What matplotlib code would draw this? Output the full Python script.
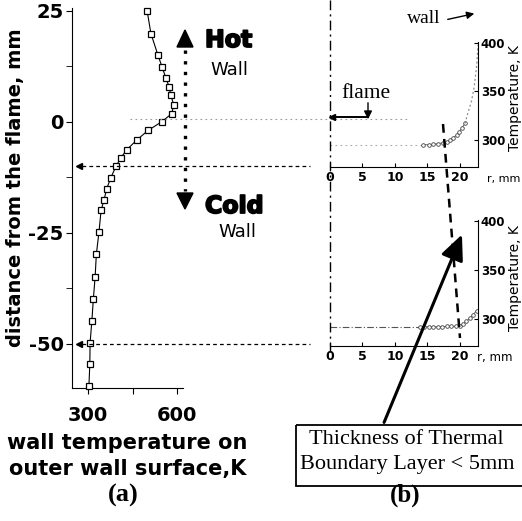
"""
plot.py

Wall temperature along the outer wall (a) and radial temperature profiles
at two heights (b), with the arrows and notes that link the two panels.
"""

import matplotlib.pyplot as plt
import matplotlib.patheffects as pe
from matplotlib.patches import Polygon, Rectangle, FancyArrowPatch
from matplotlib.transforms import blended_transform_factory

W, H = 522, 521  # output size in pixels

plt.rcParams["axes.unicode_minus"] = False

# (a) outer-wall temperature vs. distance from the flame
dist_mm = [25, 19.8, 14.9, 12.4, 9.9, 7.9, 5.9, 3.8, 1.8, 0, -2.0, -4.1, -6.3,
           -8.1, -10.1, -12.6, -15.1, -17.6, -20.0, -24.8, -29.9, -34.9,
           -39.9, -44.8, -49.8, -54.7, -59.5]
wall_temp_K = [499, 512, 536, 549, 562, 573, 579, 589, 582, 549, 502, 465, 431,
               411, 394, 377, 363, 354, 344, 337, 328, 324, 318, 313, 307, 306,
               303]
a_xticks = [300, 450, 600]
a_xticklabels = ["300", "", "600"]
a_yticks = [25, 0, -25, -50]
a_yticks_minor = [12.5, -12.5, -37.5]

# (b) radial profile at the flame height (upper plot)
r_top_flat = [0, 14.4]
T_top_flat = [295, 295]
r_top = [14.4, 15.2, 15.9, 16.6, 17.4, 18.0, 18.5, 19.0, 19.5, 19.9, 20.3, 20.8]
T_top = [295, 295, 295.5, 296, 297, 298, 299.5, 302, 305, 308, 312, 317]
r_top_rise = [20.8, 21.3, 21.8, 22.2, 22.6, 22.8]
T_top_rise = [317, 329, 340, 354, 377, 398]

# (b) radial profile 50 mm below the flame (lower plot)
r_bot_flat = [0, 13.8]
T_bot_flat = [292.5, 292.5]
r_bot = [13.8, 14.5, 15.2, 15.9, 16.6, 17.3, 18.0, 18.7, 19.4, 20.0, 20.5, 21.0,
         21.5, 22.0, 22.6]
T_bot = [292.5, 292.5, 292.5, 292.5, 292.5, 292.5, 293, 293, 293, 293.5, 295,
         298, 301, 304.5, 309]
b_rticks = [0, 5, 10, 15, 20]
b_Tticks = [300, 350, 400]

SERIF = "Liberation Serif"


def px_rect(x0, y0, x1, y1):
    """Axes rectangle from pixel box (origin top-left)."""
    return [x0 / W, 1 - y1 / H, (x1 - x0) / W, (y1 - y0) / H]


def bold_ticklabels(ax):
    for lbl in ax.get_xticklabels() + ax.get_yticklabels():
        lbl.set_fontweight("bold")


def style_profile_axes(ax, xlim, ylim):
    ax.set_xlim(*xlim)
    ax.set_ylim(*ylim)
    ax.spines["top"].set_visible(False)
    ax.spines["left"].set_visible(False)
    ax.yaxis.tick_right()
    ax.set_xticks(b_rticks)
    ax.set_yticks(b_Tticks)
    ax.tick_params(axis="x", direction="in", length=3, labelsize=9, pad=3)
    ax.tick_params(axis="y", direction="in", length=3, labelsize=8.5, pad=2)
    ax.yaxis.set_label_position("right")
    ax.set_ylabel("Temperature, K", fontsize=10, rotation=90)
    bold_ticklabels(ax)


def main():
    fig = plt.figure(figsize=(W / 100, H / 100), dpi=100)

    # ---- panel (a)
    ax_a = fig.add_axes(px_rect(72, 8.4, 183, 388))
    ax_a.plot(wall_temp_K, dist_mm, color="k", lw=0.8, marker="s", ms=4.6,
              mfc="white", mec="k", mew=0.9, clip_on=False, zorder=3)
    ax_a.set_xlim(246, 620)
    ax_a.set_ylim(-60, 25.5)
    ax_a.spines["top"].set_visible(False)
    ax_a.spines["right"].set_visible(False)
    ax_a.set_xticks(a_xticks)
    ax_a.set_xticklabels(a_xticklabels)
    ax_a.set_yticks(a_yticks)
    ax_a.set_yticks(a_yticks_minor, minor=True)
    ax_a.tick_params(axis="y", which="both", direction="out", length=4, labelsize=14, pad=2)
    ax_a.tick_params(axis="x", direction="out", length=4, labelsize=14, pad=9)
    bold_ticklabels(ax_a)
    ax_a.set_ylabel("distance from the flame, mm", fontsize=14, fontweight="bold")
    ax_a.yaxis.set_label_coords(-0.42, 0.527)
    ax_a.set_xlabel("wall temperature on\nouter wall surface,K", fontsize=15,
                    fontweight="bold", linespacing=1.35, labelpad=6)

    # ---- panel (b), upper profile
    ax_t = fig.add_axes(px_rect(330, 42, 478, 167))
    ax_t.plot(r_top_flat, T_top_flat, color="#aaaaaa", lw=0.8, ls=(0, (1.5, 3)))
    ax_t.plot(r_top, T_top, color="#555555", lw=0.6, marker="o", ms=2.6,
              mfc="white", mec="#444444", mew=0.6)
    ax_t.plot(r_top_rise, T_top_rise, color="#888888", lw=0.9, ls=(0, (1.5, 2)))
    style_profile_axes(ax_t, (0, 22.8), (272, 401))
    ax_t.yaxis.set_label_coords(1.205, 0.55)

    # ---- panel (b), lower profile
    ax_b = fig.add_axes(px_rect(330, 220, 478, 346))
    ax_b.plot(r_bot_flat, T_bot_flat, color="#555555", lw=0.8, ls=(0, (6, 2, 1, 2)))
    ax_b.plot(r_bot, T_bot, color="#555555", lw=0.6, marker="o", ms=2.6,
              mfc="white", mec="#444444", mew=0.6)
    style_profile_axes(ax_b, (0, 22.8), (273, 401))
    ax_b.yaxis.set_label_coords(1.205, 0.54)

    # ---- overlay in pixel coordinates for the linking annotations
    ov = fig.add_axes([0, 0, 1, 1], zorder=10)
    ov.set_xlim(0, W)
    ov.set_ylim(H, 0)
    ov.axis("off")
    ov.patch.set_alpha(0)
    tr_a = blended_transform_factory(ov.transData, ax_a.transData)

    # level lines from panel (a) across to panel (b)
    ov.plot([130, 410], [0.6, 0.6], transform=tr_a, color="#999999", lw=0.8, ls=(0, (1.5, 3)))
    for level in (-10, -50):
        ov.plot([82, 310], [level, level], transform=tr_a, color="k", lw=0.9, ls=(0, (3, 2.5)))
        ov.plot([79], [level], transform=tr_a, marker="<", ms=5, color="k")

    # hot/cold double arrow
    ov.plot([185, 185], [50, 191], color="k", lw=2.4, ls=(0, (1, 2.2)), dash_capstyle="butt")
    ov.add_patch(Polygon([[177, 47], [193, 47], [185, 30]], closed=True, color="k"))
    ov.add_patch(Polygon([[177, 193], [193, 193], [185, 209]], closed=True, color="k"))
    heavy = [pe.withStroke(linewidth=1.3, foreground="k")]
    ov.text(205, 47, "Hot", fontsize=17, fontweight="bold", va="baseline", path_effects=heavy)
    ov.text(210, 75, "Wall", fontsize=13, va="baseline")
    ov.text(205, 213, "Cold", fontsize=17, fontweight="bold", va="baseline", path_effects=heavy)
    ov.text(218, 237, "Wall", fontsize=13, va="baseline")

    # symmetry axis of the burner
    ov.plot([330, 330], [0, 352], color="k", lw=1.0, ls=(0, (7, 3, 1.5, 3)))

    # flame marker
    ov.plot([332, 368], [117, 117], color="k", lw=1.4)
    ov.plot([332], [117], marker="<", ms=4, color="k")
    ov.annotate("", xy=(368, 122), xytext=(368, 100),
                arrowprops=dict(arrowstyle="-|>", color="k", lw=1.0, mutation_scale=12))
    ov.text(366, 98, "flame", fontsize=15.5, family=SERIF, ha="center", va="baseline")

    # wall marker
    ov.text(407, 23, "wall", fontsize=14, family=SERIF, ha="left", va="baseline")
    ov.annotate("", xy=(477, 13), xytext=(445, 20),
                arrowprops=dict(arrowstyle="-|>", color="k", lw=1.0, mutation_scale=11))

    # boundary-layer edge
    ov.plot([443, 460], [124, 338], color="k", lw=1.8, ls=(0, (3.5, 2.5)))

    # note box with arrow
    ov.add_patch(FancyArrowPatch((383, 425), (463, 232),
                                 arrowstyle="-|>,head_length=1.1,head_width=0.5",
                                 mutation_scale=14, color="k", lw=2.2))
    ov.add_patch(Rectangle((296, 425), 240, 61, fill=False, lw=1.3, ec="k"))
    ov.text(406, 440, "Thickness of Thermal", fontsize=16, family=SERIF, ha="center", va="center")
    ov.text(407, 464, "Boundary Layer < 5mm", fontsize=16, family=SERIF, ha="center", va="center")

    # panel tags
    ov.text(123, 495, "(a)", fontsize=19, family=SERIF, fontweight="bold", ha="center", va="center")
    ov.text(405, 495, "(b)", fontsize=18, family=SERIF, fontweight="bold", ha="center", va="center")

    # r-axis labels
    ov.text(487, 179, "r, mm", fontsize=8, ha="left", va="center")
    ov.text(477, 358, "r, mm", fontsize=8.5, ha="left", va="center")

    fig.savefig("out.png", dpi=100)


if __name__ == "__main__":
    main()
